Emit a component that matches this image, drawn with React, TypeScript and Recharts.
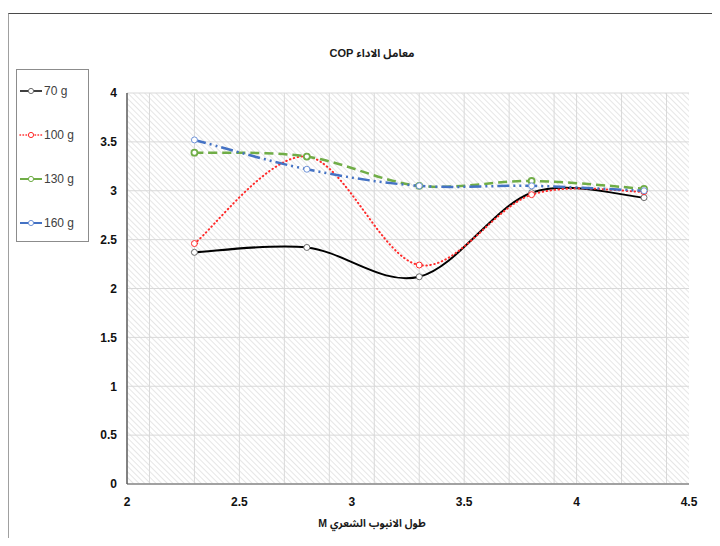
import { LineChart, Line, XAxis, YAxis, CartesianGrid } from "recharts";

// طول الانبوب الشعري (m) و COP لكل كمية شحن
const lengths = [2.3, 2.8, 3.3, 3.8, 4.3];
const cop70 = [2.37, 2.42, 2.12, 2.98, 2.93];
const cop100 = [2.46, 3.35, 2.24, 2.96, 2.99];
const cop130 = [3.39, 3.35, 3.05, 3.1, 3.02];
const cop160 = [3.52, 3.22, 3.05, 3.05, 3.0];

const xTicks = [2, 2.5, 3, 3.5, 4, 4.5];
const yTicks = [0, 0.5, 1, 1.5, 2, 2.5, 3, 3.5, 4];
const xMinor = [2.1, 2.2, 2.3, 2.4, 2.5, 2.6, 2.7, 2.8, 2.9, 3, 3.1, 3.2, 3.3, 3.4, 3.5, 3.6, 3.7, 3.8, 3.9, 4, 4.1, 4.2, 4.3, 4.4];

const data = lengths.map((len, i) => ({
  len,
  g70: cop70[i],
  g100: cop100[i],
  g130: cop130[i],
  g160: cop160[i],
}));

const series = [
  { key: "g70", name: "70 g", color: "#000000", dot: "#6b6b6b", dash: undefined, legendDash: undefined, width: 2 },
  { key: "g100", name: "100 g", color: "#ff2a2a", dot: "#ff2a2a", dash: "0.5 3.5", legendDash: "0.5 2.5", width: 2 },
  { key: "g130", name: "130 g", color: "#70ad47", dot: "#70ad47", dash: "9 5", legendDash: undefined, width: 2.5 },
  { key: "g160", name: "160 g", color: "#4472c4", dot: "#6f93d8", dash: "12 4 2 4 2 4", legendDash: undefined, width: 2.5 },
];

// smoothing like the spreadsheet "smoothed line" option (Catmull-Rom as cubic beziers)
const smooth = (context: any) => {
  let pts: number[][] = [];
  return {
    areaStart() {},
    areaEnd() {},
    lineStart() {
      pts = [];
    },
    point(x: number, y: number) {
      pts.push([+x, +y]);
    },
    lineEnd() {
      if (!pts.length) return;
      context.moveTo(pts[0][0], pts[0][1]);
      for (let i = 0; i < pts.length - 1; i++) {
        const p0 = pts[i - 1] || pts[i];
        const p1 = pts[i];
        const p2 = pts[i + 1];
        const p3 = pts[i + 2] || pts[i + 1];
        context.bezierCurveTo(
          p1[0] + (p2[0] - p0[0]) / 6,
          p1[1] + (p2[1] - p0[1]) / 6,
          p2[0] - (p3[0] - p1[0]) / 6,
          p2[1] - (p3[1] - p1[1]) / 6,
          p2[0],
          p2[1]
        );
      }
    },
  };
};

const font = "'Liberation Sans', Arial, 'Noto Sans Arabic', 'Noto Naskh Arabic', 'DejaVu Sans', sans-serif";

function LegendBox() {
  return (
    <div
      style={{
        position: "absolute",
        left: 16,
        top: 69,
        width: 73,
        height: 173,
        boxSizing: "border-box",
        border: "1px solid #8c8c8c",
        fontFamily: font,
        fontSize: 12,
        color: "#404040",
      }}
    >
      {series.map((s, i) => (
        <div
          key={s.key}
          style={{ position: "absolute", left: 2, top: 14 + i * 44, display: "flex", alignItems: "center" }}
        >
          <svg width={24} height={10}>
            <line
              x1={1}
              y1={5}
              x2={23}
              y2={5}
              stroke={s.color}
              strokeWidth={s.width - 0.5}
              strokeDasharray={s.legendDash}
              strokeLinecap={s.legendDash ? "round" : "butt"}
            />
            <circle cx={12} cy={5} r={2.6} fill="#fff" stroke={s.dot} strokeWidth={1} />
          </svg>
          <span style={{ marginLeft: 1 }}>{s.name}</span>
        </div>
      ))}
    </div>
  );
}

const titleStyle = {
  position: "absolute" as const,
  left: 272,
  width: 200,
  textAlign: "center" as const,
  fontFamily: font,
  fontSize: 11,
  fontWeight: "bold" as const,
  color: "#1a1a1a",
};

export default function App() {
  return (
    <div style={{ position: "relative", width: 720, height: 546, margin: -8, overflow: "hidden", background: "#fff" }}>
      <div
        style={{
          position: "absolute",
          left: 8,
          top: 13,
          width: 740,
          height: 560,
          borderTop: "1px solid #4a4a4a",
          borderLeft: "1.5px solid #a0a0a0",
        }}
      />
      <div dir="rtl" style={{ ...titleStyle, top: 42 }}>
        معامل الاداء COP
      </div>
      <LineChart
        width={720}
        height={546}
        data={data}
        margin={{ top: 93, right: 31, bottom: 32, left: 87 }}
        style={{ position: "absolute", left: 0, top: 0 }}
      >
        <defs>
          <pattern id="hatch" width={4} height={4} patternUnits="userSpaceOnUse" patternTransform="rotate(-45)">
            <rect width={4} height={4} fill="#ffffff" />
            <line x1={0} y1={0} x2={0} y2={4} stroke="#e0e0e0" strokeWidth={1.6} />
          </pattern>
        </defs>
        <CartesianGrid
          fill="url(#hatch)"
          stroke="#d9d9d9"
          strokeWidth={1}
          verticalValues={xMinor}
          horizontalValues={yTicks}
        />
        <XAxis
          type="number"
          dataKey="len"
          domain={[2, 4.5]}
          ticks={xTicks}
          tickLine={false}
          tickMargin={7}
          axisLine={{ stroke: "#8a8a8a", strokeWidth: 1.5 }}
          tick={{ fill: "#111", fontSize: 12, fontWeight: "bold", fontFamily: font }}
          height={30}
        />
        <YAxis
          type="number"
          domain={[0, 4]}
          ticks={yTicks}
          tickLine={false}
          tickMargin={4}
          axisLine={{ stroke: "#5a5a5a", strokeWidth: 1.5 }}
          tick={{ fill: "#111", fontSize: 12, fontWeight: "bold", fontFamily: font }}
          width={40}
        />
        {series.map((s) => (
          <Line
            key={s.key}
            dataKey={s.key}
            name={s.name}
            type={smooth as any}
            stroke={s.color}
            strokeWidth={s.width}
            strokeDasharray={s.dash}
            strokeLinecap={s.key === "g100" ? "round" : "butt"}
            dot={{ r: 3, stroke: s.dot, strokeWidth: s.key === "g130" ? 1.8 : 1, fill: "#fff", strokeDasharray: "0" }}
            activeDot={false}
            isAnimationActive={false}
          />
        ))}
      </LineChart>
      <LegendBox />
      <div dir="rtl" style={{ ...titleStyle, top: 513, fontSize: 10.5 }}>
        طول الانبوب الشعري M
      </div>
    </div>
  );
}
